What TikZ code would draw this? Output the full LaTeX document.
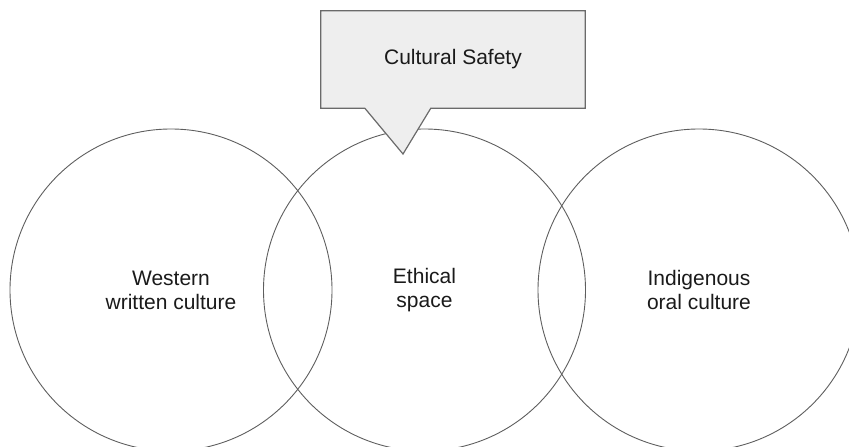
\documentclass[tikz,border=0pt]{standalone}
\usepackage{fontspec}
\setmainfont{Liberation Sans}
\usepackage{xcolor,tikz}
\definecolor{rim}{HTML}{5E5E5E}
\definecolor{boxfill}{HTML}{EEEEEE}
\definecolor{boxrim}{HTML}{6A6A6A}
\definecolor{ink}{HTML}{1A1A1A}

\begin{document}
\begin{tikzpicture}[x=1pt,y=1pt,font=\fontsize{21}{24}\selectfont,text=ink,
venn/.style={circle,draw=rim,line width=0.9pt,minimum size=322pt,inner sep=0pt,align=center},
callbox/.style={rectangle,fill=boxfill,minimum width=264pt,minimum height=97pt,inner sep=0pt},
callline/.style={draw=boxrim,line width=1.2pt,fill=boxfill,line join=miter}]
\useasboundingbox (0,0) rectangle (849,-447);
\clip (0,0) rectangle (849,-447);
\node[venn] (west) at (171,-290) {Western\\written culture};
\node[venn] (ethic) at (424.5,-290) {Ethical\\space};
\node[venn] (oral) at (699,-290) {Indigenous\\oral culture};
% box with its pointer, drawn over the middle circle
\node[callbox] (safety) at (453,-59.5) {};
\coordinate (tip) at (403,-154);
\draw[callline] (safety.north west) -- (safety.north east) -- (safety.south east)
  -- ([xshift=110pt]safety.south west) -- (tip) -- ([xshift=44pt]safety.south west)
  -- (safety.south west) -- cycle;
\node at (safety) {Cultural Safety};
\end{tikzpicture}
\end{document}
